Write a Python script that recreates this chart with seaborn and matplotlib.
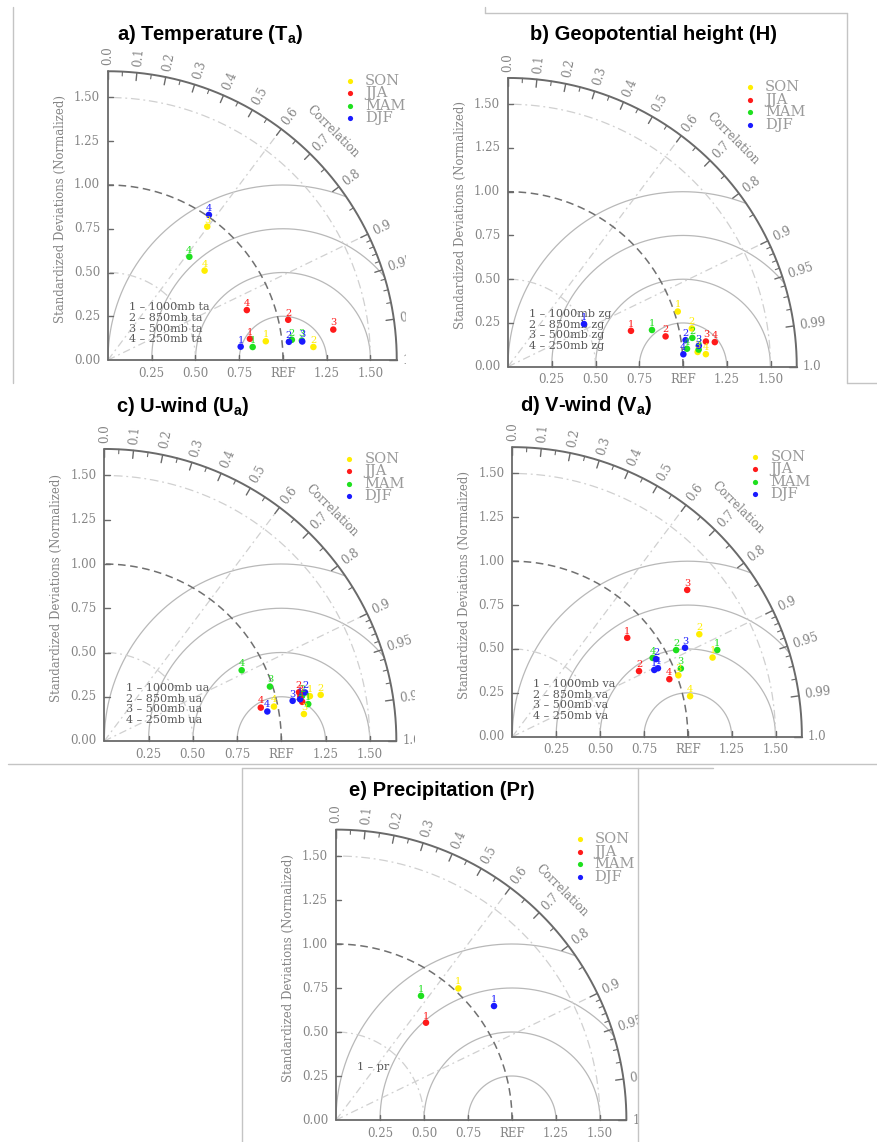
import numpy as np
import pandas as pd
import matplotlib
matplotlib.use("Agg")
import matplotlib.pyplot as plt
from matplotlib.lines import Line2D
import seaborn as sns

sns.set_theme(style="white")
plt.rcParams["font.family"] = ["DejaVu Serif"]

W, H = 877, 1142

SEASONS = ["SON", "JJA", "MAM", "DJF"]
SEASON_COLORS = {"SON": "#ffee00", "JJA": "#ff1a1a", "MAM": "#1ee01e", "DJF": "#1a1aff"}

# normalized standard deviation and correlation, one entry per level (1000, 850, 500, 250 mb)
ta_std = {"SON": [0.908, 1.176, 0.950, 0.752], "JJA": [0.820, 1.055, 1.299, 0.843],
          "MAM": [0.830, 1.057, 1.113, 0.751], "DJF": [0.762, 1.039, 1.115, 1.010]}
ta_cor = {"SON": [0.993, 0.998, 0.597, 0.734], "JJA": [0.989, 0.976, 0.991, 0.941],
          "MAM": [0.996, 0.994, 0.995, 0.619], "DJF": [0.995, 0.995, 0.9955, 0.571]}

zg_std = {"SON": [1.020, 1.073, 1.087, 1.133], "JJA": [0.732, 0.917, 1.140, 1.190],
          "MAM": [0.849, 1.066, 1.094, 1.028], "DJF": [0.498, 1.026, 1.097, 1.0045]}
zg_cor = {"SON": [0.951, 0.979, 0.997, 0.998], "JJA": [0.960, 0.982, 0.992, 0.993],
          "MAM": [0.969, 0.988, 0.996, 0.995], "DJF": [0.872, 0.989, 0.994, 0.9975]}

ua_std = {"SON": [1.189, 1.250, 1.138, 0.978], "JJA": [1.140, 1.134, 1.136, 0.904],
          "MAM": [1.171, 1.146, 0.985, 0.873], "DJF": [1.131, 1.167, 1.088, 0.936]}
ua_cor = {"SON": [0.977, 0.978, 0.991, 0.980], "JJA": [0.981, 0.970, 0.975, 0.978],
          "MAM": [0.984, 0.975, 0.950, 0.889], "DJF": [0.978, 0.972, 0.978, 0.984]}

va_std = {"SON": [1.227, 1.215, 1.009, 1.039], "JJA": [0.864, 0.813, 1.301, 0.953],
          "MAM": [1.268, 1.056, 1.036, 0.917], "DJF": [0.894, 0.931, 1.107, 0.917]}
va_cor = {"SON": [0.930, 0.877, 0.938, 0.975], "JJA": [0.758, 0.888, 0.766, 0.939],
          "MAM": [0.921, 0.884, 0.927, 0.872], "DJF": [0.905, 0.880, 0.889, 0.905]}

pr_std = {"SON": [1.021], "JJA": [0.753], "MAM": [0.855], "DJF": [1.107]}
pr_cor = {"SON": [0.681], "JJA": [0.679], "MAM": [0.565], "DJF": [0.811]}

ta_cases = ["1000mb ta", "850mb ta", "500mb ta", "250mb ta"]
zg_cases = ["1000mb zg", "850mb zg", "500mb zg", "250mb zg"]
ua_cases = ["1000mb ua", "850mb ua", "500mb ua", "250mb ua"]
va_cases = ["1000mb va", "850mb va", "500mb va", "250mb va"]
pr_cases = ["pr"]

std_ticks = [0.25, 0.50, 0.75, 1.00, 1.25, 1.50]
x_tick_labels = ["0.25", "0.50", "0.75", "REF", "1.25", "1.50"]
y_tick_labels = ["0.25", "0.50", "0.75", "1.00", "1.25", "1.50"]
cor_major = [0.0, 0.1, 0.2, 0.3, 0.4, 0.5, 0.6, 0.7, 0.8, 0.9, 0.95, 0.99, 1.0]
cor_labels = ["0.0", "0.1", "0.2", "0.3", "0.4", "0.5", "0.6", "0.7", "0.8", "0.9", "0.95", "0.99", "1.0"]
cor_minor = [0.05, 0.15, 0.25, 0.35, 0.45, 0.55, 0.65, 0.75, 0.85,
             0.91, 0.92, 0.93, 0.94, 0.96, 0.97, 0.98]
rms_radii = [0.25, 0.50, 0.75, 1.00]

RMAX = 1.65
AX_COL = "#6a6a6a"
LBL_COL = "#858585"
GRID_COL = "#b8b8b8"
LIGHT_COL = "#d0d0d0"
SERIF = "DejaVu Serif"


def panel_axes(fig, rect, origin, scale):
    x0, y0, x1, y1 = rect
    ox, oy = origin
    ax = fig.add_axes([x0 / W, 1 - y1 / H, (x1 - x0) / W, (y1 - y0) / H])
    lims = ((x0 - ox) / scale, (x1 - ox) / scale, (oy - y1) / scale, (oy - y0) / scale)
    return ax, lims


def arc(ax, r, **kw):
    t = np.linspace(0, np.pi / 2, 300)
    ax.plot(r * np.cos(t), r * np.sin(t), **kw)


def draw_taylor(ax, lims, std, cor, cases):
    # frame: axes lines and the outer correlation arc
    ax.plot([0, 0], [0, RMAX], color=AX_COL, lw=1.3, zorder=3)
    ax.plot([0, RMAX], [0, 0], color=AX_COL, lw=1.3, zorder=3)
    arc(ax, RMAX, color=AX_COL, lw=1.4, zorder=3)

    # centred RMS difference circles around REF
    t = np.linspace(0, np.pi, 600)
    for rr in rms_radii:
        x = 1 + rr * np.cos(t)
        y = rr * np.sin(t)
        mask = np.hypot(x, y) <= RMAX
        x = np.where(mask, x, np.nan)
        ax.plot(x, y, color=GRID_COL, lw=0.9, zorder=1)

    # standard deviation arcs
    arc(ax, 0.5, color=LIGHT_COL, lw=0.9, ls=(0, (7, 3, 1.5, 3)), zorder=1)
    arc(ax, 1.5, color=LIGHT_COL, lw=0.9, ls=(0, (7, 3, 1.5, 3)), zorder=1)
    arc(ax, 1.0, color="#707070", lw=1.1, ls=(0, (5, 3)), zorder=2)

    # correlation rays
    for c in (0.6, 0.9):
        th = np.arccos(c)
        ax.plot([0, RMAX * np.cos(th)], [0, RMAX * np.sin(th)],
                color=LIGHT_COL, lw=0.9, ls=(0, (6, 3, 1.5, 3)), zorder=1)

    # correlation ticks and labels
    for c, lab in zip(cor_major, cor_labels):
        th = np.arccos(c)
        ax.plot([(RMAX - 0.045) * np.cos(th), RMAX * np.cos(th)],
                [(RMAX - 0.045) * np.sin(th), RMAX * np.sin(th)], color=AX_COL, lw=1.0, zorder=3)
        ax.text(1.685 * np.cos(th), 1.685 * np.sin(th), lab, rotation=np.degrees(th),
                rotation_mode="anchor", ha="left", va="center", fontsize=8.5,
                color=LBL_COL, family=SERIF, clip_on=True)
    for c in cor_minor:
        th = np.arccos(c)
        ax.plot([(RMAX - 0.025) * np.cos(th), RMAX * np.cos(th)],
                [(RMAX - 0.025) * np.sin(th), RMAX * np.sin(th)], color=AX_COL, lw=0.8, zorder=3)
    th = np.radians(45.4)
    ax.text(1.83 * np.cos(th), 1.83 * np.sin(th), "Correlation", rotation=-45,
            rotation_mode="anchor", ha="center", va="center", fontsize=8.5,
            color=LBL_COL, family=SERIF, clip_on=True)

    # standard deviation ticks and labels
    for v, lx, ly in zip(std_ticks, x_tick_labels, y_tick_labels):
        ax.plot([0, 0.03], [v, v], color=AX_COL, lw=1.0, zorder=3)
        ax.plot([v, v], [0, 0.03], color=AX_COL, lw=1.0, zorder=3)
        ax.text(v, -0.075, lx, ha="center", va="center", fontsize=8.5,
                color=LBL_COL, family=SERIF, clip_on=True)
        ax.text(-0.045, v, ly, ha="right", va="center", fontsize=8.5,
                color=LBL_COL, family=SERIF, clip_on=True)
    ax.text(-0.045, 0.0, "0.00", ha="right", va="center", fontsize=8.5,
            color=LBL_COL, family=SERIF, clip_on=True)
    ax.text(-0.27, 0.865, "Standardized Deviations (Normalized)", rotation=90,
            ha="center", va="center", fontsize=8.5, color=LBL_COL, family=SERIF, clip_on=True)

    # models
    rows = []
    for s in SEASONS:
        for k, (sd, cc) in enumerate(zip(std[s], cor[s])):
            th = np.arccos(cc)
            rows.append({"season": s, "case": k + 1,
                         "x": sd * np.cos(th), "y": sd * np.sin(th)})
    df = pd.DataFrame(rows)
    sns.scatterplot(data=df, x="x", y="y", hue="season", hue_order=SEASONS,
                    palette=SEASON_COLORS, s=22, linewidth=0, legend=False,
                    ax=ax, zorder=6)
    for _, r in df.iterrows():
        ax.text(r["x"], r["y"] + 0.012, str(r["case"]), ha="center", va="bottom",
                fontsize=7, color=SEASON_COLORS[r["season"]], family=SERIF,
                zorder=6, clip_on=True)

    # season legend
    for i, s in enumerate(SEASONS):
        yy = 1.596 - 0.071 * i
        ax.scatter([1.385], [yy], s=14, color=SEASON_COLORS[s], linewidths=0, zorder=6)
        ax.text(1.47, yy, s, ha="left", va="center", fontsize=10.5,
                color="#9a9a9a", family=SERIF, clip_on=True)

    # case legend
    for i, name in enumerate(cases):
        ax.text(0.12, 0.300 - 0.060 * i, f"{i + 1} \u2013 {name}", ha="left", va="center",
                fontsize=8, color="#5a5a5a", family=SERIF, clip_on=True)

    ax.set_xlim(lims[0], lims[1])
    ax.set_ylim(lims[2], lims[3])
    ax.axis("off")


fig = plt.figure(figsize=(W / 100, H / 100), dpi=100)
fig.patch.set_facecolor("white")

panels = [
    dict(rect=(14, 0, 406, 384), origin=(108, 360), scale=175, std=ta_std, cor=ta_cor,
         cases=ta_cases, title=r"a) Temperature (T$\mathregular{_a}$)", tpos=(210, 34)),
    dict(rect=(440, 14, 847, 384), origin=(508, 366.7), scale=175, std=zg_std, cor=zg_cor,
         cases=zg_cases, title="b) Geopotential height (H)", tpos=(653, 34)),
    dict(rect=(0, 385, 415, 764), origin=(104.3, 741), scale=177, std=ua_std, cor=ua_cor,
         cases=ua_cases, title=r"c) U-wind (U$\mathregular{_a}$)", tpos=(183, 406)),
    dict(rect=(440, 385, 877, 764), origin=(512.3, 736.7), scale=175.5, std=va_std, cor=va_cor,
         cases=va_cases, title=r"d) V-wind (V$\mathregular{_a}$)", tpos=(586, 405)),
    dict(rect=(243, 769, 638, 1142), origin=(336, 1120), scale=176, std=pr_std, cor=pr_cor,
         cases=pr_cases, title="e) Precipitation (Pr)", tpos=(442, 790)),
]

for p in panels:
    ax, lims = panel_axes(fig, p["rect"], p["origin"], p["scale"])
    draw_taylor(ax, lims, p["std"], p["cor"], p["cases"])
    fig.text(p["tpos"][0] / W, 1 - p["tpos"][1] / H, p["title"], ha="center", va="center",
             fontsize=14.5, fontweight="bold", family="Liberation Sans", color="black")

# panel frames
frame = dict(color="#c4c4c4", lw=1.0, transform=fig.transFigure)
for (xa, ya, xb, yb) in [(13, 7, 13, 383), (485, 13, 847, 13), (485, 7, 485, 13),
                         (847, 13, 847, 383), (847, 383, 877, 383), (8, 764, 877, 764),
                         (242, 768, 713, 768), (242, 768, 242, 1142), (638, 768, 638, 1142)]:
    fig.add_artist(Line2D([xa / W, xb / W], [1 - ya / H, 1 - yb / H], **frame))

fig.savefig("out.png", dpi=100, facecolor="white")
